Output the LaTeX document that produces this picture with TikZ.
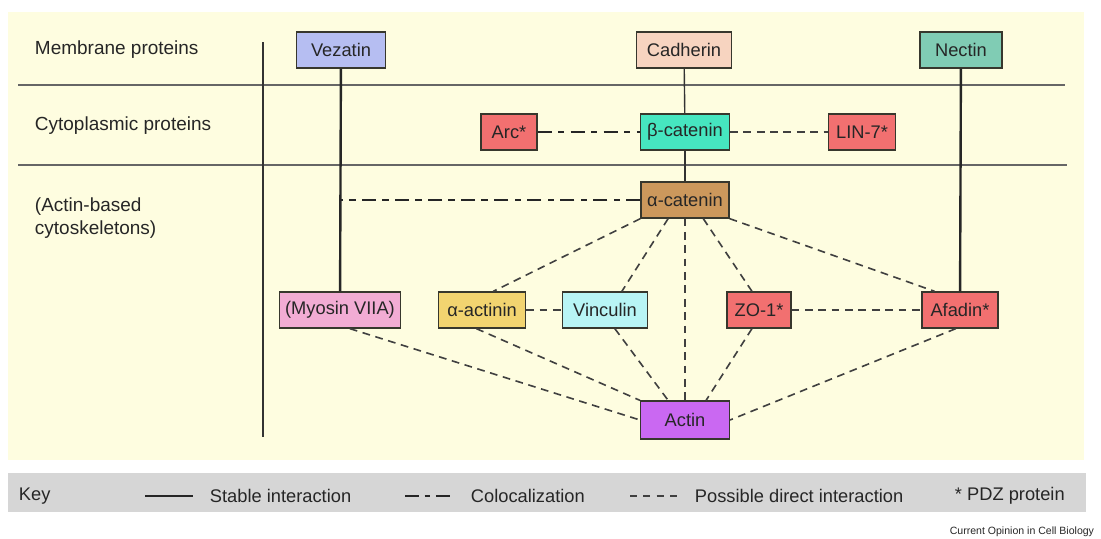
\documentclass[tikz,border=0pt]{standalone}
\usepackage{fontspec}
\setmainfont{Liberation Sans}
\usetikzlibrary{positioning}

\definecolor{bgyellow}{RGB}{254,253,224}
\definecolor{keygray}{RGB}{214,214,214}
\definecolor{boxline}{RGB}{55,55,45}
\definecolor{cVezatin}{RGB}{182,190,242}
\definecolor{cCadherin}{RGB}{247,212,192}
\definecolor{cNectin}{RGB}{128,204,180}
\definecolor{cPdz}{RGB}{242,112,112}
\definecolor{cBcat}{RGB}{70,230,192}
\definecolor{cAcat}{RGB}{204,152,92}
\definecolor{cMyosin}{RGB}{242,172,212}
\definecolor{cActinin}{RGB}{242,212,112}
\definecolor{cVinculin}{RGB}{184,245,245}
\definecolor{cActin}{RGB}{202,104,242}

\begin{document}
\begin{tikzpicture}[x=0.025cm, y=-0.025cm,
		prot/.style={rectangle, draw=boxline, line width=0.9pt, minimum height=0.9cm, inner xsep=1pt, font=\fontsize{13}{15}\selectfont, text=black!85},
		rowlabel/.style={anchor=west, align=left, font=\fontsize{13.5}{16}\selectfont, text=black!85},
		keytext/.style={anchor=west, font=\fontsize{13}{15}\selectfont, text=black!85},
		stable/.style={draw=black!85, line width=1.7pt},
		stablethin/.style={draw=black!80, line width=1pt},
		coloc/.style={draw=black!85, line width=2.1pt, dash pattern=on 10pt off 4.5pt on 4.5pt off 4.5pt},
		possible/.style={draw=black!75, line width=1.15pt, dash pattern=on 5.5pt off 4pt},
		sep/.style={draw=black!60, line width=0.9pt}]
		
		\useasboundingbox (0,0) rectangle (1101,539);
		\fill[bgyellow] (8,12) rectangle (1084,460);
		\fill[keygray] (8,473) rectangle (1086,512);
		
		% Zones
		\draw[sep] (18,85) -- (1065,85);
		\draw[sep] (18,165) -- (1067,165);
		\draw[draw=black!80, line width=0.9pt] (263,42) -- (263,437);
		\node[rowlabel] (lmem) at (30,50) {Membrane proteins};
		\node[rowlabel] (lcyt) at (30,126) {Cytoplasmic proteins};
		\node[rowlabel] (lact) at (30,218) {(Actin-based\\cytoskeletons)};
		
		% Proteines
		\node[prot, fill=cVezatin, minimum width=2.22cm] (vezatin) at (341,50) {Vezatin};
		\node[prot, fill=cCadherin, minimum width=2.38cm] (cadherin) at (684,50) {Cadherin};
		\node[prot, fill=cNectin, minimum width=2.05cm] (nectin) at (961,50) {Nectin};
		\node[prot, fill=cPdz, minimum width=1.4cm] (arc) at (509,132) {Arc*};
		\node[prot, fill=cBcat, minimum width=2.22cm] (bcat) at (685,132) {β-catenin};
		\node[prot, fill=cPdz, minimum width=1.68cm] (lin) at (862,132) {LIN-7*};
		\node[prot, fill=cAcat, minimum width=2.2cm] (acat) at (685,200) {α-catenin};
		\node[prot, fill=cMyosin, minimum width=3.02cm] (myosin) at (340,310) {(Myosin VIIA)};
		\node[prot, fill=cActinin, minimum width=2.18cm] (actinin) at (482,310) {α-actinin};
		\node[prot, fill=cVinculin, minimum width=2.12cm] (vinculin) at (605,310) {Vinculin};
		\node[prot, fill=cPdz, minimum width=1.6cm] (zo) at (759,310) {ZO-1*};
		\node[prot, fill=cPdz, minimum width=1.9cm] (afadin) at (960,310) {Afadin*};
		\node[prot, fill=cActin, minimum width=2.22cm, minimum height=0.95cm] (actin) at (685,420) {Actin};
		\coordinate (vezjoin) at (341,200);
		
		% Liens
		\path[stable] (vezatin) -- (myosin);
		\path[stable] (nectin) -- (afadin);
		\path[stablethin] (cadherin) -- (bcat);
		\path[stablethin] (bcat) -- (acat);
		\path[coloc] (arc) -- (bcat);
		\path[coloc] (acat) -- (vezjoin);
		\path[possible] (bcat) -- (lin);
		\path[possible] (acat.south west) -- ([xshift=8pt]actinin.north);
		\path[possible] ([xshift=-12pt]acat.south) -- ([xshift=12pt]vinculin.north);
		\path[possible] (acat) -- (actin);
		\path[possible] ([xshift=13pt]acat.south) -- ([xshift=-5pt]zo.north);
		\path[possible] (acat.south east) -- ([xshift=-18pt]afadin.north);
		\path[possible] (actinin) -- (vinculin);
		\path[possible] (zo) -- (afadin);
		\path[possible] ([xshift=7pt]myosin.south) -- (actin.west);
		\path[possible] ([xshift=-4pt]actinin.south) -- (actin.north west);
		\path[possible] ([xshift=7pt]vinculin.south) -- ([xshift=-12pt]actin.north);
		\path[possible] ([xshift=-5pt]zo.south) -- ([xshift=15pt]actin.north);
		\path[possible] ([xshift=-3pt]afadin.south) -- (actin.east);
		
		% Legende
		\node[keytext] (key) at (14,496) {Key};
		\coordinate (s1) at (145,496); \coordinate (s2) at (193,496);
		\draw[draw=black!85, line width=1.7pt] (s1) -- (s2);
		\node[keytext] (kstable) at (205,496) {Stable interaction};
		\coordinate (c1) at (405,496); \coordinate (c2) at (454,496);
		\draw[draw=black!85, line width=2.1pt, dash pattern=on 10pt off 4pt on 4pt off 4pt] (c1) -- (c2);
		\node[keytext] (kcoloc) at (466,496) {Colocalization};
		\coordinate (p1) at (630,496); \coordinate (p2) at (678,496);
		\draw[draw=black!75, line width=1.15pt, dash pattern=on 5pt off 4.5pt] (p1) -- (p2);
		\node[keytext] (kposs) at (690,496) {Possible direct interaction};
		\node[keytext] (kpdz) at (950,496) {* PDZ protein};
		\node[anchor=east, font=\fontsize{7.5}{9}\selectfont, text=black!85] (credit) at (1099,532) {Current Opinion in Cell Biology};
		
	\end{tikzpicture}
\end{document}
